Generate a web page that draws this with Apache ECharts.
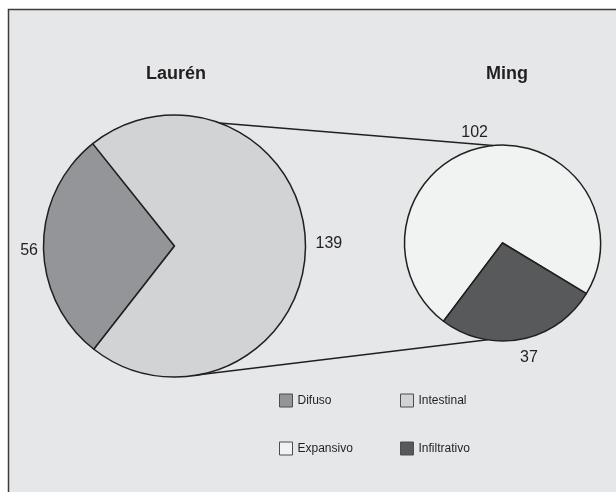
<!DOCTYPE html>
<html>
<head>
<meta charset="utf-8">
<script src="https://cdn.jsdelivr.net/npm/echarts@6/dist/echarts.min.js"></script>
<style>
  html, body { margin: 0; padding: 0; background: #ffffff; }
  #chart { width: 616px; height: 492px; }
</style>
</head>
<body>
<div id="chart"></div>
<script>
// ---- data ----
const laurenTitle = 'Laurén';
const mingTitle = 'Ming';
const laurenCategories = ['Difuso', 'Intestinal'];
const laurenValues = [56, 139];
const mingCategories = ['Expansivo', 'Infiltrativo'];
const mingValues = [102, 37];
const legendColumn1 = ['Difuso', 'Expansivo'];
const legendColumn2 = ['Intestinal', 'Infiltrativo'];

// ---- styles ----
const colorMap = { Difuso: '#939598', Intestinal: '#d1d3d4', Expansivo: '#f1f2f2', Infiltrativo: '#58595b' };
const txt = '#231f20';
const font = '"Liberation Sans", Arial, sans-serif';
const leftPie = { center: [174.5, 246], r: 131, startAngle: 232 };
const rightPie = { center: [502.5, 243], r: 98, startAngle: 233 };
// per-label nudges [dx, dy] (series index -> data index)
const labelNudge = [
  [[4.5, 4], [0, -2]],
  [[10, -9], [-7, 13]]
];
// connector anchor angles (screen degrees, y down)
const connectors = [
  { a1: -69.9, a2: -95.6 },
  { a1: 80.2, a2: 98.8 }
];

function pt(p, deg) {
  const a = deg * Math.PI / 180;
  return [p.center[0] + p.r * Math.cos(a), p.center[1] + p.r * Math.sin(a)];
}

const chart = echarts.init(document.getElementById('chart'), null, { renderer: 'canvas' });

const mk = (cats, vals) => cats.map((c, i) => ({ name: c, value: vals[i], itemStyle: { color: colorMap[c] } }));

const pieBase = {
  type: 'pie',
  clockwise: true,
  avoidLabelOverlap: false,
  silent: true,
  itemStyle: { borderColor: txt, borderWidth: 1.5 },
  label: { show: true, position: 'outside', formatter: '{c}', color: txt, fontSize: 16, fontFamily: font },
  labelLine: { show: false, length: 5, length2: 0 },
  labelLayout: function (params) {
    const n = labelNudge[params.seriesIndex][params.dataIndex];
    return { dx: n[0], dy: n[1] };
  },
  emphasis: { disabled: true }
};

const graphics = [
  { type: 'rect', z: -10, silent: true,
    shape: { x: 8.5, y: 9.5, width: 900, height: 700 },
    style: { fill: '#e6e7e8', stroke: '#3d3d3f', lineWidth: 1.5 } }
];
connectors.forEach(c => {
  const p1 = pt(leftPie, c.a1), p2 = pt(rightPie, c.a2);
  graphics.push({ type: 'line', z: 5, silent: true,
    shape: { x1: p1[0], y1: p1[1], x2: p2[0], y2: p2[1] },
    style: { stroke: txt, lineWidth: 1.5 } });
});

const legendBase = {
  top: 393.5, padding: 0,
  orient: 'vertical',
  icon: 'rect', itemWidth: 13, itemHeight: 13, itemGap: 34,
  itemStyle: { borderColor: '#4d4d4f', borderWidth: 1 },
  textStyle: { fontSize: 12, color: txt, fontFamily: font },
  selectedMode: false
};

chart.setOption({
  animation: false,
  backgroundColor: '#ffffff',
  graphic: graphics,
  title: [
    { text: laurenTitle, left: 176, top: 65, textAlign: 'center', padding: 0,
      textStyle: { fontSize: 18, fontWeight: 'bold', color: txt, fontFamily: font } },
    { text: mingTitle, left: 507, top: 65, textAlign: 'center', padding: 0,
      textStyle: { fontSize: 18, fontWeight: 'bold', color: txt, fontFamily: font } }
  ],
  legend: [
    Object.assign({}, legendBase, { data: legendColumn1, left: 279 }),
    Object.assign({}, legendBase, { data: legendColumn2, left: 400 })
  ],
  series: [
    Object.assign({}, pieBase, { name: laurenTitle, center: leftPie.center, radius: leftPie.r, startAngle: leftPie.startAngle, data: mk(laurenCategories, laurenValues) }),
    Object.assign({}, pieBase, { name: mingTitle, center: rightPie.center, radius: rightPie.r, startAngle: rightPie.startAngle, data: mk(mingCategories, mingValues) })
  ]
});
</script>
</body>
</html>
